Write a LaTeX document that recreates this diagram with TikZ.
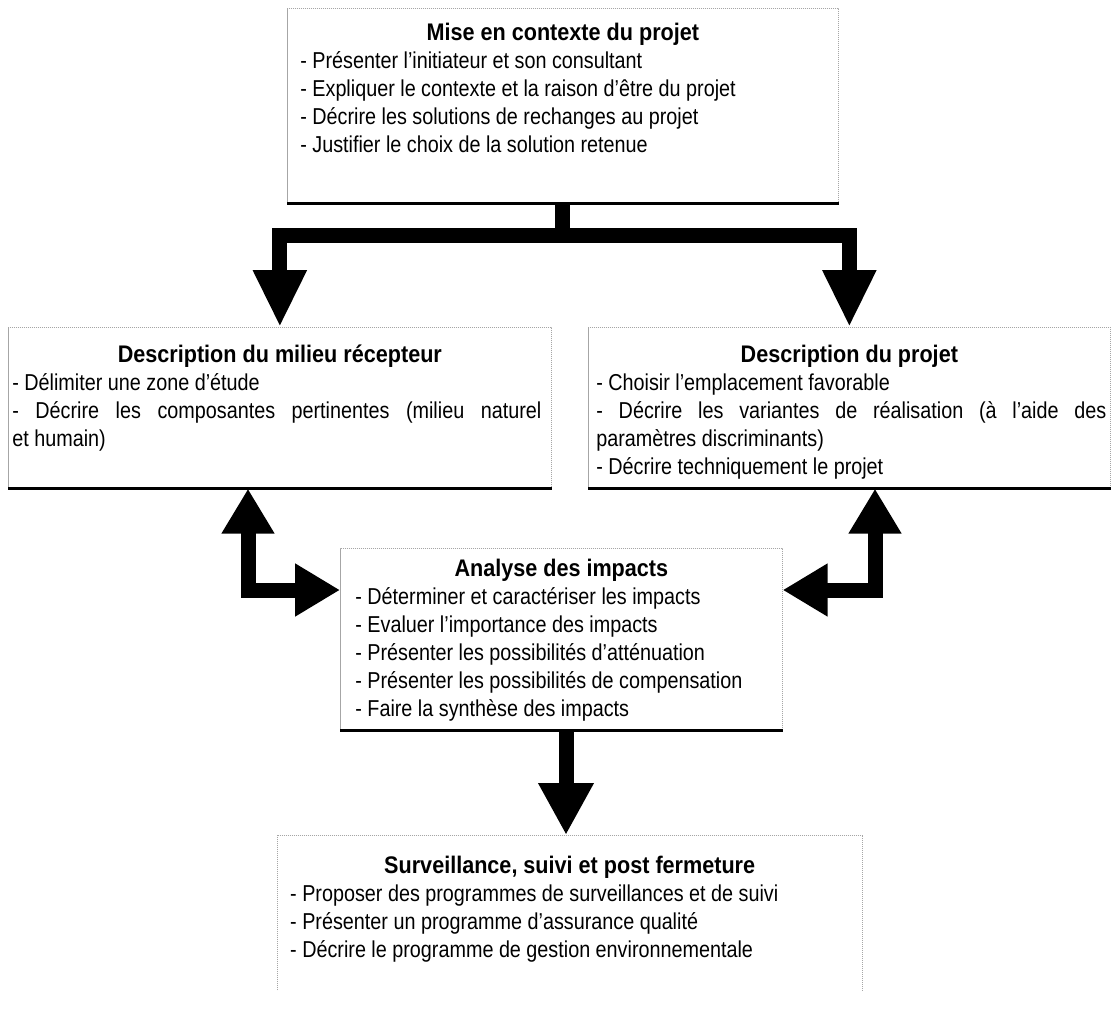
\documentclass[tikz,border=0pt]{standalone}
\usepackage{fontspec}
\setmainfont{Liberation Sans}
\newfontfamily\bodyfont[FakeStretch=0.86]{Liberation Sans}
\newfontfamily\titlefont[FakeStretch=0.9]{Liberation Sans}
\usetikzlibrary{arrows.meta}
\newcommand{\BoxText}[7]{%
\begin{minipage}[t][#2][t]{#1}%
\setlength{\parindent}{0pt}\setlength{\parskip}{0pt}%
\hyphenpenalty=10000 \exhyphenpenalty=10000
{\centering\titlefont\fontsize{24pt}{28pt}\bfseries\selectfont\rule{0pt}{#3}#6\par}%
\bodyfont\fontsize{23pt}{28pt}\selectfont\leftskip=#4\rightskip=#5 #7\par
\end{minipage}}
\tikzset{
  x=1pt, y=-1pt,
  boxst/.style={draw=black!35, line width=0.7pt, dash pattern=on 1.2pt off 0.8pt, inner sep=0pt, anchor=north west},
  nobox/.style={inner sep=0pt, anchor=north west},
  base/.style={line width=3pt, black},
  fat/.style={line width=15pt, line join=miter, black},
  BigD/.tip={Triangle[width=50pt,length=57pt]},
  BigE/.tip={Triangle[width=50pt,length=45pt]},
  BigB/.tip={Triangle[width=52pt,length=52pt]},
}
\begin{document}
\begin{tikzpicture}
\useasboundingbox (0,0) rectangle (1111,1021);
% boxes
\node[boxst] (T) at (287,8) {\BoxText{551pt}{195pt}{32pt}{13pt}{8pt}{Mise en contexte du projet}{%
- Présenter l’initiateur et son consultant\par
- Expliquer le contexte et la raison d’être du projet\par
- Décrire les solutions de rechanges au projet\par
- Justifier le choix de la solution retenue}};
\node[boxst] (L) at (8,327) {\BoxText{543pt}{161pt}{35pt}{4pt}{10pt}{Description du milieu récepteur}{%
- Délimiter une zone d’étude\par
- Décrire les composantes pertinentes (milieu naturel\linebreak et humain)}};
\node[boxst] (R) at (588,327) {\BoxText{522pt}{161pt}{35pt}{8pt}{4pt}{Description du projet}{%
- Choisir l’emplacement favorable\par
- Décrire les variantes de réalisation (à l’aide des\linebreak paramètres discriminants)\par
- Décrire techniquement le projet}};
\node[boxst] (M) at (340,548) {\BoxText{442pt}{182pt}{28pt}{15pt}{4pt}{Analyse des impacts}{%
- Déterminer et caractériser les impacts\par
- Evaluer l’importance des impacts\par
- Présenter les possibilités d’atténuation\par
- Présenter les possibilités de compensation\par
- Faire la synthèse des impacts}};
\node[nobox] (B) at (277,835) {\BoxText{585pt}{155pt}{38pt}{13pt}{4pt}{Surveillance, suivi et post fermeture}{%
- Proposer des programmes de surveillances et de suivi\par
- Présenter un programme d’assurance qualité\par
- Décrire le programme de gestion environnementale}};
\draw[draw=black!35, line width=0.7pt, dash pattern=on 1.2pt off 0.8pt] (B.south west) -- (B.north west) -- (B.north east) -- (B.south east);
% thick bottom edges
\foreach \n in {T,L,R,M} \draw[base] (\n.south west) -- (\n.south east);
% connectors
\coordinate (barY) at (0,235.5);
\coordinate (lx) at (248,0);
\coordinate (rx) at (875,0);
\coordinate (ly) at (0,590);
\coordinate (mx) at (566,0);
\draw[fat] (T.south) -- (T.south |- barY);
\draw[fat,-{BigD}] (T.south |- barY) -| (L.north);
\draw[fat,-{BigD}] (T.south |- barY) -| (R.north);
\draw[fat,{BigE}-{BigE}] (L.south -| lx) |- (M.west |- ly);
\draw[fat,{BigE}-{BigE}] (R.south -| rx) |- (M.east |- ly);
\draw[fat,-{BigB}] (M.south -| mx) -- (B.north -| mx);
\end{tikzpicture}
\end{document}
